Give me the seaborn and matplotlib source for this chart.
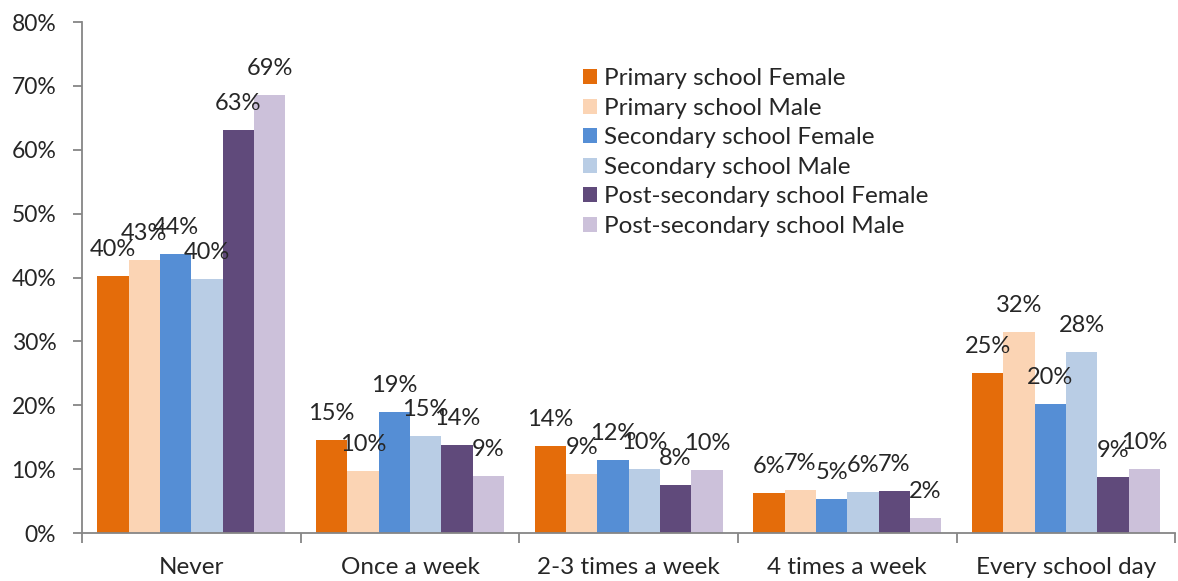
import pandas
import seaborn
import matplotlib.pyplot as plt
from matplotlib.ticker import FixedLocator, PercentFormatter

seaborn.set_style('white')
plt.rcParams['font.family'] = ['Lato', 'DejaVu Sans']

categories = ['Never', 'Once a week', '2-3 times a week', '4 times a week', 'Every school day']
series = [
    'Primary school Female',
    'Primary school Male',
    'Secondary school Female',
    'Secondary school Male',
    'Post-secondary school Female',
    'Post-secondary school Male',
]
primary_female = [40.2, 14.6, 13.6, 6.3, 25.0]
primary_male = [42.7, 9.7, 9.2, 6.7, 31.5]
secondary_female = [43.7, 18.9, 11.5, 5.3, 20.2]
secondary_male = [39.8, 15.2, 10.1, 6.4, 28.3]
post_female = [63.1, 13.8, 7.5, 6.6, 8.8]
post_male = [68.6, 8.9, 9.9, 2.4, 10.1]
colors = ['#E46C0A', '#FBD4B4', '#558ED5', '#B9CDE5', '#604A7B', '#CCC1DA']

values = [primary_female, primary_male, secondary_female, secondary_male, post_female, post_male]
rows = []
for s, vals in zip(series, values):
    for c, v in zip(categories, vals):
        rows.append({'Frequency': c, 'Group': s, 'Percent': v})
data = pandas.DataFrame(rows)

fs_text = 17.5   # category names and legend
fs_num = 16.5    # y ticks and value labels

fig = plt.figure(figsize=(11.78, 5.81), dpi=100)
ax = fig.add_axes([0.0696, 0.0826, 0.928, 0.8794])

seaborn.barplot(data=data, x='Frequency', y='Percent', hue='Group',
                order=categories, hue_order=series, palette=colors,
                width=0.86, gap=0, errorbar=None, saturation=1,
                linewidth=0, ax=ax)

# value labels sit a fixed distance above each bar, centred like Excel does it
for cont in ax.containers:
    for b in cont:
        h = b.get_height()
        ax.annotate('{:.0f}%'.format(h), (b.get_x() + b.get_width() / 2, h),
                    xytext=(0, 19), textcoords='offset points',
                    ha='center', va='center', fontsize=fs_num + 0.5)

ax.set_xlim(-0.5, len(categories) - 0.5)
ax.set_ylim(0, 80)
ax.yaxis.set_major_locator(FixedLocator(range(0, 81, 10)))
ax.yaxis.set_major_formatter(PercentFormatter(decimals=0))
ax.xaxis.set_minor_locator(FixedLocator([i - 0.5 for i in range(len(categories) + 1)]))
ax.tick_params(axis='x', which='major', length=0, labelsize=fs_text, pad=17)
ax.tick_params(axis='x', which='minor', length=7, width=1.3, color='#868686', direction='out', bottom=True)
ax.tick_params(axis='y', length=6.5, width=1.3, color='#868686', direction='out', labelsize=fs_num, left=True, pad=12)
ax.set_xlabel('')
ax.set_ylabel('')
seaborn.despine(fig=fig, top=True, right=True)
for side in ['left', 'bottom']:
    ax.spines[side].set_color('#868686')
    ax.spines[side].set_linewidth(1.3)

ax.legend(loc='upper left', bbox_to_anchor=(0.4867, 0.899), bbox_transform=fig.transFigure,
          frameon=False, fontsize=fs_text, handlelength=0.58, handleheight=0.58,
          handletextpad=0.29, labelspacing=0.35, borderaxespad=0)

fig.savefig('out.png', dpi=100)
